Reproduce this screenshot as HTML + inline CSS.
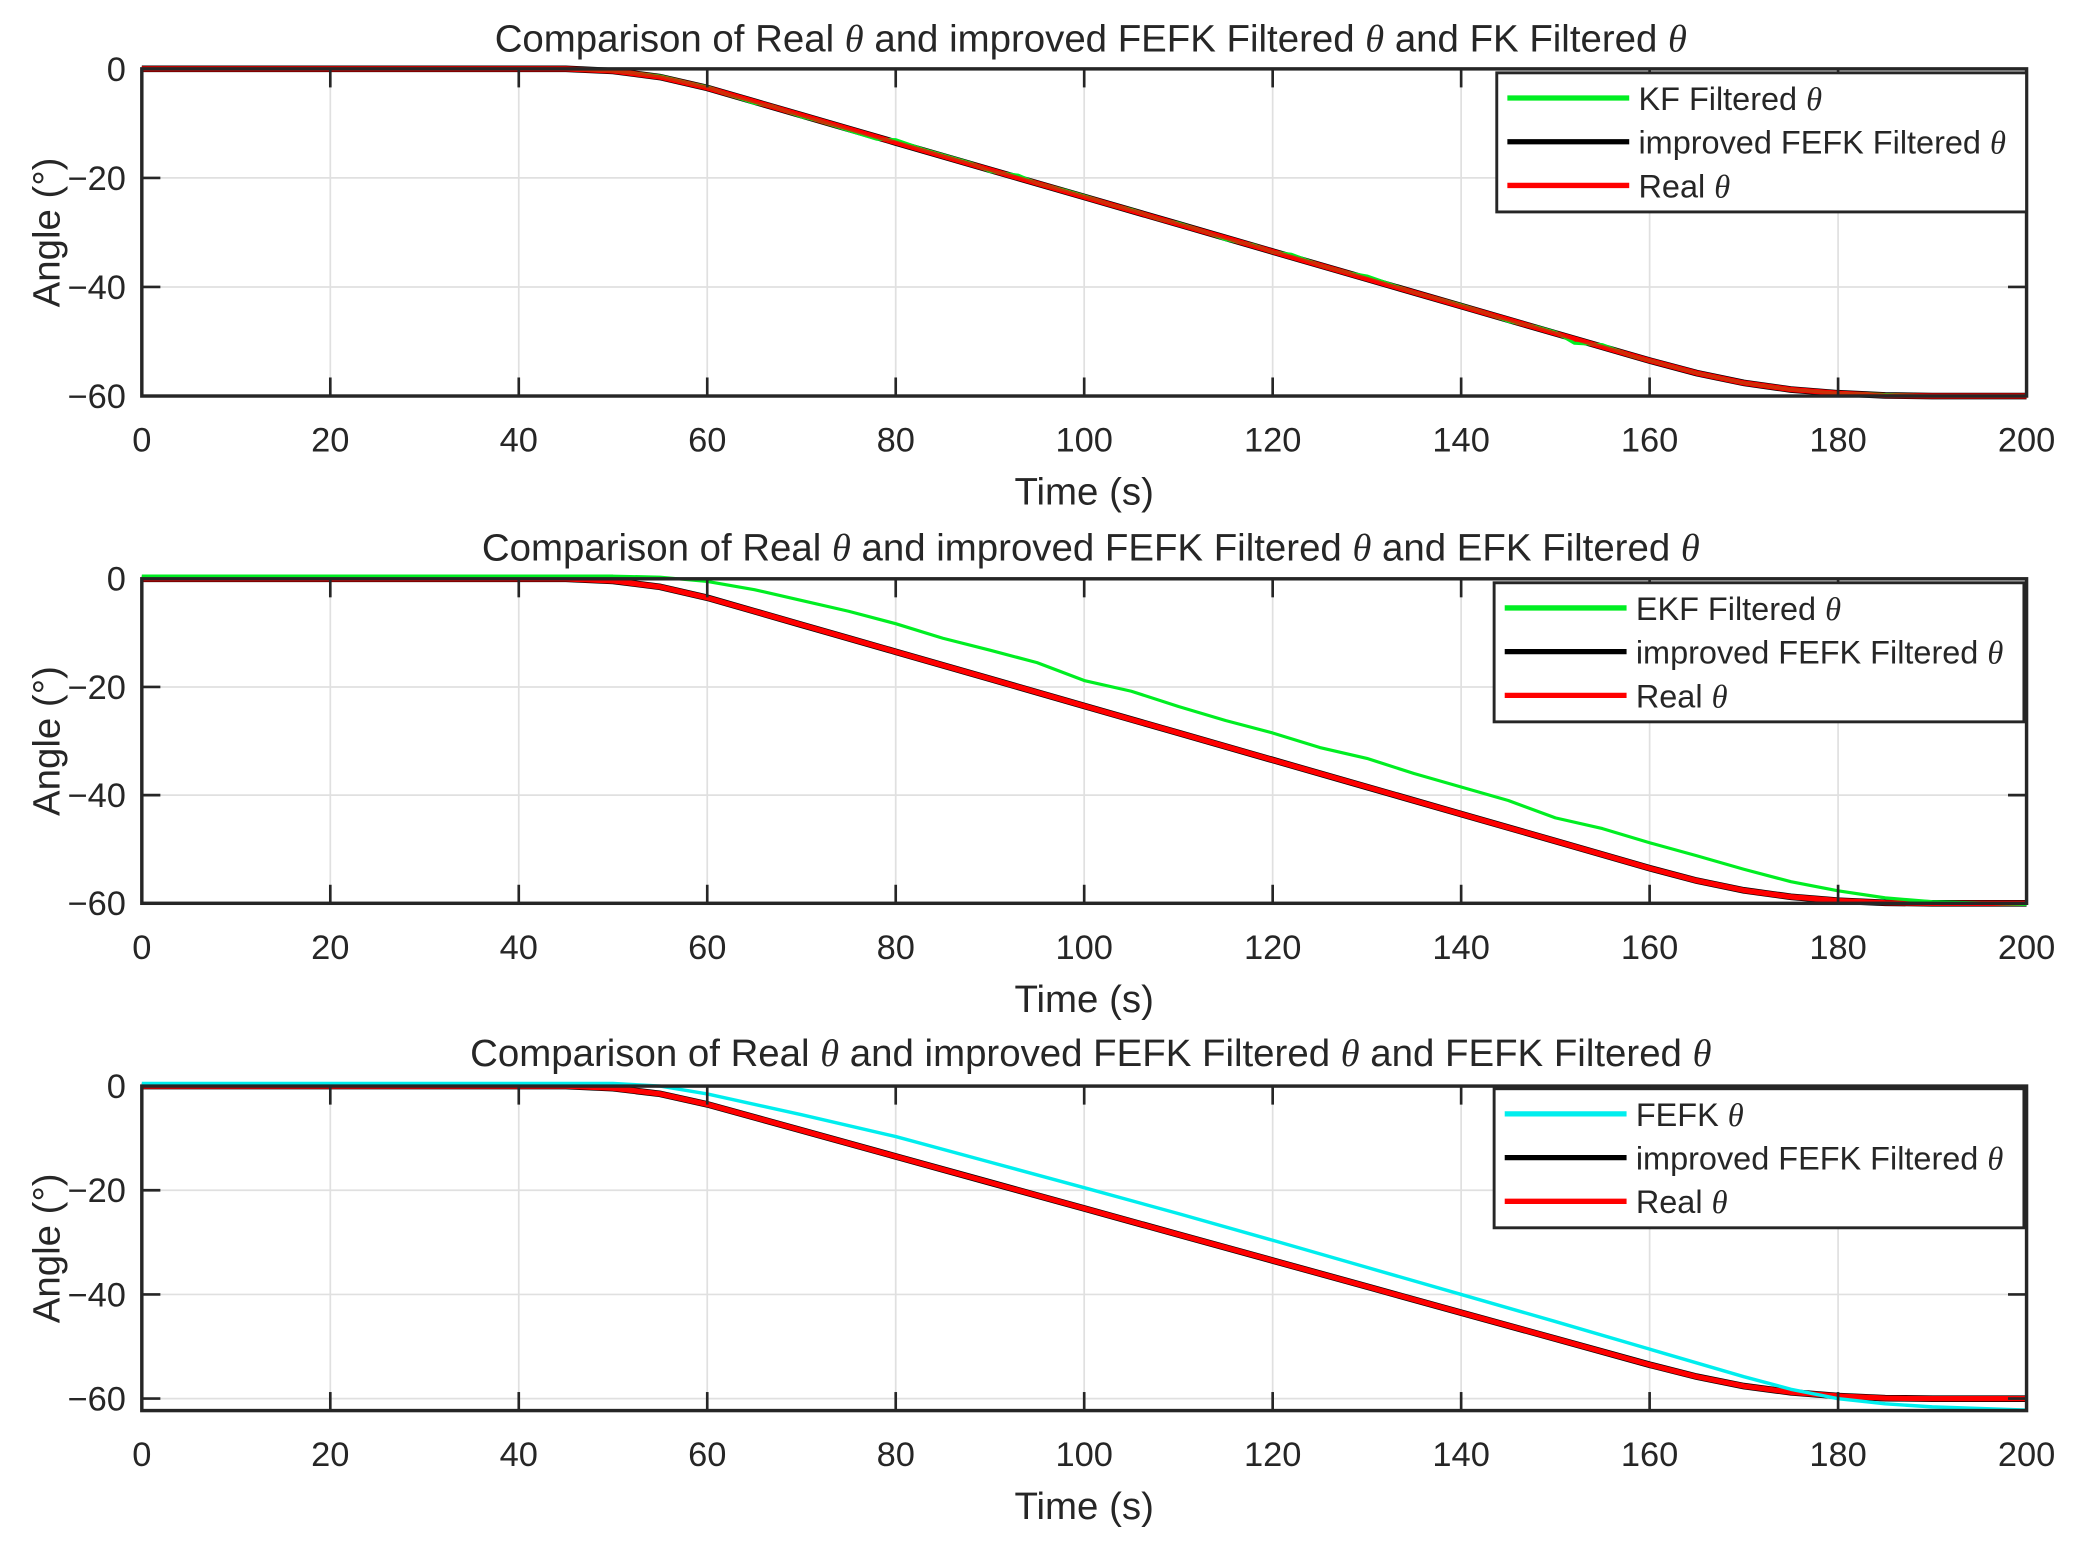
<!DOCTYPE html>
<html><head><meta charset="utf-8"><style>
html,body{margin:0;padding:0;background:#fff;}
svg{display:block;}
text{font-family:"Liberation Sans",sans-serif;fill:#262626;}
</style></head><body>
<svg id="chart" width="2077" height="1547" viewBox="0 0 1568 1168" xmlns="http://www.w3.org/2000/svg"></svg>
<script>
const timeTicks = [0,20,40,60,80,100,120,140,160,180,200];
const angleTicks = [0,-20,-40,-60];
const realT = [0,45,50,55,60,65,70,80,90,100,110,120,130,140,150,160,165,170,175,180,185,190,200];
const realV = [0,0,-0.4,-1.5,-3.5,-6,-8.5,-13.5,-18.5,-23.5,-28.5,-33.5,-38.5,-43.5,-48.5,-53.5,-55.8,-57.6,-58.8,-59.5,-59.9,-60,-60];
const kfT = [0,45,50,55,58,60,62,65,67,70,72,75,78,80,83,85,88,90,93,95,98,100,103,105,108,110,113,115,118,120,122,125,128,130,133,135,138,140,143,145,148,150,152,155,158,160,165,170,175,180,190,200];
const kfV = [0,0,-0.4,-1.3,-2.6,-3.3,-4.6,-6.3,-6.9,-8.8,-9.6,-11.3,-12.9,-13.0,-14.8,-15.8,-17.3,-18.8,-19.5,-21.0,-22.3,-23.3,-25.0,-25.8,-27.6,-28.3,-30.0,-31.3,-32.3,-33.6,-34.0,-36.0,-37.4,-38.0,-39.8,-41.0,-42.4,-43.3,-45.0,-46.3,-47.3,-48.3,-50.3,-50.6,-52.6,-53.5,-55.8,-57.6,-58.8,-59.5,-60,-60];
const ekfT = [0,50,55,60,65,70,75,80,85,90,95,100,105,110,115,120,125,130,135,140,145,150,155,160,165,170,175,180,185,190,200];
const ekfV = [0.5,0.5,0.3,-0.5,-2,-4,-6,-8.3,-11,-13.2,-15.5,-18.8,-20.8,-23.6,-26.2,-28.5,-31.2,-33.2,-36,-38.5,-41,-44.2,-46.2,-48.8,-51.2,-53.7,-56,-57.7,-59,-59.7,-60.2];
const fefkT = [0,50,55,60,70,80,90,100,110,120,130,140,150,160,170,175,180,185,190,200];
const fefkV = [0.5,0.5,0,-1.5,-5.5,-9.7,-14.6,-19.5,-24.5,-29.6,-34.8,-40,-45.2,-50.5,-55.8,-58.2,-60,-61,-61.6,-62.2];

const NS="http://www.w3.org/2000/svg";
const svg=document.getElementById('chart');
function mk(tag,attrs,parent){const e=document.createElementNS(NS,tag);for(const k in attrs)e.setAttribute(k,attrs[k]);(parent||svg).appendChild(e);return e;}
function txt(s,attrs,parent){const e=mk('text',attrs,parent);e.innerHTML=s;return e;}
const TH='<tspan font-family="Liberation Serif,serif" font-style="italic">θ</tspan>';

const panels=[
 {top:52,bottom:299,ymin:-60,ymax:0,title:'Comparison of Real '+TH+' and improved FEFK Filtered '+TH+' and FK Filtered '+TH,titleY:39,
  legend:{x:1130,y:55,w:400,h:105},cmp:{t:kfT,v:kfV,color:'#00ee22',w:2.4,label:'KF Filtered '+TH,name:'kf-filtered-line'}},
 {top:437,bottom:682,ymin:-60,ymax:0,title:'Comparison of Real '+TH+' and improved FEFK Filtered '+TH+' and EFK Filtered '+TH,titleY:423,
  legend:{x:1128,y:440,w:400,h:105},cmp:{t:ekfT,v:ekfV,color:'#00ee22',w:2.4,label:'EKF Filtered '+TH,name:'ekf-filtered-line'}},
 {top:820,bottom:1065,ymin:-62.3,ymax:0,title:'Comparison of Real '+TH+' and improved FEFK Filtered '+TH+' and FEFK Filtered '+TH,titleY:805,
  legend:{x:1128,y:822,w:400,h:105},cmp:{t:fefkT,v:fefkV,color:'#00eeee',w:2.6,label:'FEFK '+TH,name:'fefk-line'}}
];
const L=107,R=1530;
panels.forEach((p,i)=>{
  const g=mk('g',{});
  
  
  const x=t=>L+(t-0)/200*(R-L);
  const y=v=>p.top+(p.ymax-v)/(p.ymax-p.ymin)*(p.bottom-p.top);
  timeTicks.forEach(t=>{if(t>0&&t<200)mk('line',{x1:x(t),x2:x(t),y1:p.top,y2:p.bottom,stroke:'#e0e0e0','stroke-width':1.3},g);});
  angleTicks.forEach(v=>{mk('line',{x1:L,x2:R,y1:y(v),y2:y(v),stroke:'#e0e0e0','stroke-width':1.3},g);});
  const path=(T,V)=>T.map((t,k)=>(k?'L':'M')+x(t).toFixed(1)+','+y(V[k]).toFixed(1)).join('');
  const blk=mk('path',{d:path(realT,realV),fill:'none',stroke:'#000','stroke-width':5},g);
  
  
  const red=mk('path',{d:path(realT,realV),fill:'none',stroke:'#ff0000','stroke-width':4,'stroke-linejoin':'round'},g);
  
  
  const c=mk('path',{d:path(p.cmp.t,p.cmp.v),fill:'none',stroke:p.cmp.color,'stroke-width':p.cmp.w,'stroke-linejoin':'round'},g);
  
  
  if(i===0){mk('path',{d:path(realT,realV),fill:'none',stroke:'#ff0000','stroke-width':3,opacity:0.8},g);}
  mk('rect',{x:L,y:p.top,width:R-L,height:p.bottom-p.top,fill:'none',stroke:'#262626','stroke-width':2.6},g);
  timeTicks.forEach(t=>{
    mk('line',{x1:x(t),x2:x(t),y1:p.bottom,y2:p.bottom-14,stroke:'#262626','stroke-width':2},g);
    mk('line',{x1:x(t),x2:x(t),y1:p.top,y2:p.top+14,stroke:'#262626','stroke-width':2},g);
    const tl=txt(String(t),{x:x(t),y:p.bottom+42,'font-size':26,'text-anchor':'middle'},g);
    
    
  });
  angleTicks.forEach(v=>{
    mk('line',{x1:L,x2:L+14,y1:y(v),y2:y(v),stroke:'#262626','stroke-width':2},g);
    mk('line',{x1:R,x2:R-14,y1:y(v),y2:y(v),stroke:'#262626','stroke-width':2},g);
    const tl=txt(v===0?'0':'−'+(-v),{x:L-12,y:y(v)+9,'font-size':26,'text-anchor':'end'},g);
    
    
  });
  const tt=txt(p.title,{x:(L+R)/2+5,y:p.titleY,'font-size':29,'text-anchor':'middle'},g);
  
  
  const xl=txt('Time (s)',{x:(L+R)/2,y:p.bottom+82,'font-size':29,'text-anchor':'middle'},g);
  
  
  const cy=(p.top+p.bottom)/2;
  const yl=txt('Angle (°)',{x:0,y:0,'font-size':29,'text-anchor':'middle',transform:'translate(45,'+cy+') rotate(-90)'},g);
  
  
  const lg=mk('g',{},g);
  
  
  const b=p.legend;
  mk('rect',{x:b.x,y:b.y,width:b.w,height:b.h,fill:'#fff',stroke:'#262626','stroke-width':2.2},lg);
  const items=[[p.cmp.color,p.cmp.label],['#000','improved FEFK Filtered '+TH],['#ff0000','Real '+TH]];
  items.forEach((it,k)=>{
    const ly=b.y+19+k*33;
    const e=mk('g',{},lg);
    
    
    mk('line',{x1:b.x+8,x2:b.x+100,y1:ly,y2:ly,stroke:it[0],'stroke-width':4},e);
    txt(it[1],{x:b.x+107,y:ly+9,'font-size':24.5},e);
  });
});
</script>
</body></html>
